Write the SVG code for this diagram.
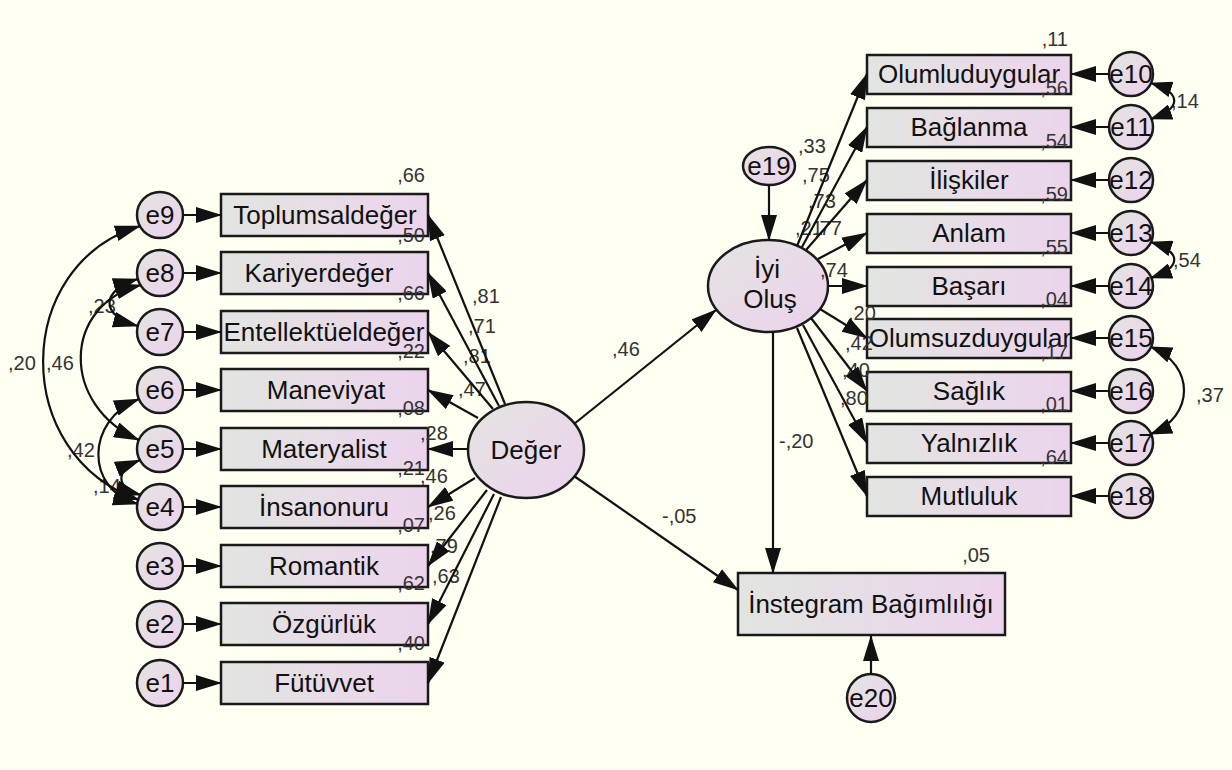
<svg xmlns="http://www.w3.org/2000/svg" width="1232" height="770" viewBox="0 0 1232 770">
<defs>
<linearGradient id="gb" x1="0" y1="0" x2="1" y2="0"><stop offset="0" stop-color="#e2e5e1"/><stop offset="1" stop-color="#ecd4ec"/></linearGradient>
<linearGradient id="gc" x1="0" y1="0" x2="1" y2="1"><stop offset="0" stop-color="#e4e4e2"/><stop offset="1" stop-color="#ecd2ec"/></linearGradient>
<marker id="a" viewBox="0 0 26 16" refX="25" refY="8" markerWidth="26" markerHeight="16" markerUnits="userSpaceOnUse" orient="auto-start-reverse"><path d="M0,0L26,8L0,16z" fill="#111"/></marker>
<marker id="s" viewBox="0 0 22 16" refX="21" refY="8" markerWidth="22" markerHeight="16" markerUnits="userSpaceOnUse" orient="auto-start-reverse"><path d="M0,0L22,8L0,16z" fill="#111"/></marker>
<style>
.bx{fill:url(#gb);stroke:#1a1a1a;stroke-width:2.5}
.ci{fill:url(#gc);stroke:#1a1a1a;stroke-width:2.5}
.t{font-family:"Liberation Sans",Arial,sans-serif;font-size:26px;fill:#111;text-anchor:middle}
.n{font-family:"Liberation Sans",Arial,sans-serif;font-size:20px;fill:#333}
.e{text-anchor:end}
.c{fill:none;stroke:#111;stroke-width:2.2;marker-end:url(#a)}
.cv{fill:none;stroke:#111;stroke-width:2.2;marker-start:url(#a);marker-end:url(#a)}
.cs{fill:none;stroke:#111;stroke-width:2.2;marker-start:url(#s);marker-end:url(#s)}
</style>
</defs>
<rect width="1232" height="770" fill="#fffff2"/>

<!-- left error circles -->
<g id="e9"><circle class="ci" cx="160" cy="215" r="23"/><text class="t" x="160" y="224">e9</text></g>
<g id="e8"><circle class="ci" cx="160" cy="273" r="23"/><text class="t" x="160" y="282">e8</text></g>
<g id="e7"><circle class="ci" cx="160" cy="332" r="23"/><text class="t" x="160" y="341">e7</text></g>
<g id="e6"><circle class="ci" cx="160" cy="390" r="23"/><text class="t" x="160" y="399">e6</text></g>
<g id="e5"><circle class="ci" cx="160" cy="449" r="23"/><text class="t" x="160" y="458">e5</text></g>
<g id="e4"><circle class="ci" cx="160" cy="507" r="23"/><text class="t" x="160" y="516">e4</text></g>
<g id="e3"><circle class="ci" cx="160" cy="566" r="23"/><text class="t" x="160" y="575">e3</text></g>
<g id="e2"><circle class="ci" cx="160" cy="624" r="23"/><text class="t" x="160" y="633">e2</text></g>
<g id="e1"><circle class="ci" cx="160" cy="683" r="23"/><text class="t" x="160" y="692">e1</text></g>

<!-- left boxes -->
<g id="toplumsaldeger"><rect class="bx" x="221" y="194" width="207" height="42"/><text class="t" x="325" y="224">Toplumsaldeğer</text></g>
<g id="kariyerdeger"><rect class="bx" x="221" y="252" width="207" height="42"/><text class="t" x="319" y="282">Kariyerdeğer</text></g>
<g id="entellektueldeger"><rect class="bx" x="221" y="311" width="207" height="42"/><text class="t" x="324" y="341">Entellektüeldeğer</text></g>
<g id="maneviyat"><rect class="bx" x="221" y="369" width="207" height="42"/><text class="t" x="326" y="399">Maneviyat</text></g>
<g id="materyalist"><rect class="bx" x="221" y="428" width="207" height="42"/><text class="t" x="324" y="458">Materyalist</text></g>
<g id="insanonuru"><rect class="bx" x="221" y="486" width="207" height="42"/><text class="t" x="324" y="516">İnsanonuru</text></g>
<g id="romantik"><rect class="bx" x="221" y="545" width="207" height="42"/><text class="t" x="324" y="575">Romantik</text></g>
<g id="ozgurluk"><rect class="bx" x="221" y="603" width="207" height="42"/><text class="t" x="324" y="633">Özgürlük</text></g>
<g id="futuvvet"><rect class="bx" x="221" y="662" width="207" height="42"/><text class="t" x="324" y="692">Fütüvvet</text></g>

<!-- latent nodes -->
<g id="deger"><ellipse class="ci" cx="526" cy="450" rx="58" ry="48"/><text class="t" x="526" y="459">Değer</text></g>
<g id="e19"><ellipse class="ci" cx="769" cy="166" rx="26" ry="19"/><text class="t" x="769" y="175">e19</text></g>
<g id="iyiolus"><ellipse class="ci" cx="768" cy="286" rx="60" ry="46"/><text class="t" x="767" y="278">İyi</text><text class="t" x="770" y="308">Oluş</text></g>

<!-- right boxes -->
<g id="olumluduygular"><rect class="bx" x="867" y="55" width="204" height="39"/><text class="t" x="969" y="83">Olumluduygular</text></g>
<g id="baglanma"><rect class="bx" x="867" y="108" width="204" height="39"/><text class="t" x="969" y="136">Bağlanma</text></g>
<g id="iliskiler"><rect class="bx" x="867" y="161" width="204" height="39"/><text class="t" x="969" y="189">İlişkiler</text></g>
<g id="anlam"><rect class="bx" x="867" y="214" width="204" height="39"/><text class="t" x="969" y="242">Anlam</text></g>
<g id="basari"><rect class="bx" x="867" y="267" width="204" height="39"/><text class="t" x="969" y="295">Başarı</text></g>
<g id="olumsuzduygular"><rect class="bx" x="867" y="319" width="204" height="39"/><text class="t" x="970" y="347">Olumsuzduygular</text></g>
<g id="saglik"><rect class="bx" x="867" y="372" width="204" height="39"/><text class="t" x="969" y="400">Sağlık</text></g>
<g id="yalnizlik"><rect class="bx" x="867" y="424" width="204" height="39"/><text class="t" x="969" y="452">Yalnızlık</text></g>
<g id="mutluluk"><rect class="bx" x="867" y="477" width="204" height="39"/><text class="t" x="969" y="505">Mutluluk</text></g>

<!-- right error circles -->
<g id="e10"><circle class="ci" cx="1131" cy="74" r="22"/><text class="t" x="1131" y="83">e10</text></g>
<g id="e11"><circle class="ci" cx="1131" cy="127" r="22"/><text class="t" x="1131" y="136">e11</text></g>
<g id="e12"><circle class="ci" cx="1131" cy="180" r="22"/><text class="t" x="1131" y="189">e12</text></g>
<g id="e13"><circle class="ci" cx="1131" cy="233" r="22"/><text class="t" x="1131" y="242">e13</text></g>
<g id="e14"><circle class="ci" cx="1131" cy="286" r="22"/><text class="t" x="1131" y="295">e14</text></g>
<g id="e15"><circle class="ci" cx="1131" cy="338" r="22"/><text class="t" x="1131" y="347">e15</text></g>
<g id="e16"><circle class="ci" cx="1131" cy="391" r="22"/><text class="t" x="1131" y="400">e16</text></g>
<g id="e17"><circle class="ci" cx="1131" cy="443" r="22"/><text class="t" x="1131" y="452">e17</text></g>
<g id="e18"><circle class="ci" cx="1131" cy="496" r="22"/><text class="t" x="1131" y="505">e18</text></g>

<!-- outcome -->
<g id="instegram"><rect class="bx" x="738" y="573" width="267" height="62"/><text class="t" x="871" y="613">İnstegram Bağımlılığı</text></g>
<g id="e20"><circle class="ci" cx="871" cy="698" r="24"/><text class="t" x="871" y="707">e20</text></g>

<!-- labels -->
<g id="labels">
<text class="n e" x="425" y="182">,66</text>
<text class="n e" x="425" y="242">,50</text>
<text class="n e" x="425" y="300">,66</text>
<text class="n e" x="425" y="358">,22</text>
<text class="n e" x="425" y="415">,08</text>
<text class="n e" x="425" y="475">,21</text>
<text class="n e" x="425" y="532">,07</text>
<text class="n e" x="425" y="590">,62</text>
<text class="n e" x="425" y="650">,40</text>
<text class="n" x="472" y="303">,81</text>
<text class="n" x="468" y="333">,71</text>
<text class="n" x="463" y="363">,81</text>
<text class="n" x="458" y="396">,47</text>
<text class="n" x="420" y="440">,28</text>
<text class="n" x="420" y="483">,46</text>
<text class="n" x="428" y="520">,26</text>
<text class="n" x="430" y="553">,79</text>
<text class="n" x="432" y="583">,63</text>
<text class="n" x="8" y="370">,20</text>
<text class="n" x="46" y="370">,46</text>
<text class="n" x="88" y="313">,23</text>
<text class="n" x="67" y="457">,42</text>
<text class="n" x="93" y="493">,14</text>
<text class="n" x="612" y="356">,46</text>
<text class="n" x="662" y="523">-,05</text>
<text class="n" x="779" y="448">-,20</text>
<text class="n e" x="990" y="562">,05</text>
<text class="n e" x="1068" y="46">,11</text>
<text class="n e" x="1068" y="95">,56</text>
<text class="n e" x="1068" y="148">,54</text>
<text class="n e" x="1068" y="201">,59</text>
<text class="n e" x="1068" y="254">,55</text>
<text class="n e" x="1068" y="306">,04</text>
<text class="n e" x="1068" y="359">,17</text>
<text class="n e" x="1068" y="411">,01</text>
<text class="n e" x="1068" y="464">,64</text>
<text class="n" x="798" y="153">,33</text>
<text class="n" x="802" y="182">,75</text>
<text class="n" x="808" y="208">,73</text>
<text class="n" x="795" y="235">,21</text>
<text class="n" x="814" y="235">,77</text>
<text class="n" x="820" y="277">,74</text>
<text class="n" x="848" y="320">,20</text>
<text class="n" x="845" y="350">,42</text>
<text class="n" x="842" y="377">,40</text>
<text class="n" x="840" y="405">,80</text>
<text class="n" x="1171" y="108">,14</text>
<text class="n" x="1173" y="267">,54</text>
<text class="n" x="1196" y="402">,37</text>
</g>

<!-- connectors -->
<g id="connectors">
<path class="c" d="M183,215H221"/>
<path class="c" d="M183,273H221"/>
<path class="c" d="M183,332H221"/>
<path class="c" d="M183,390H221"/>
<path class="c" d="M183,449H221"/>
<path class="c" d="M183,507H221"/>
<path class="c" d="M183,566H221"/>
<path class="c" d="M183,624H221"/>
<path class="c" d="M183,683H221"/>
<path class="c" d="M505,404L428,215"/>
<path class="c" d="M499,406L428,273"/>
<path class="c" d="M493,409L428,332"/>
<path class="c" d="M478,418L428,390"/>
<path class="c" d="M468,449L428,449"/>
<path class="c" d="M475,478L428,507"/>
<path class="c" d="M487,490L428,566"/>
<path class="c" d="M494,494L428,624"/>
<path class="c" d="M501,497L428,683"/>
<path class="cv" d="M140,226C12,265 10,455 139,500"/>
<path class="cv" d="M141,285C62,305 60,405 139,440"/>
<path class="cv" d="M138,279C100,290 100,316 138,326"/>
<path class="cv" d="M139,399C85,420 85,490 138,504"/>
<path class="cv" d="M140,460C115,470 115,488 141,495"/>
<path class="c" d="M574,424L716,310"/>
<path class="c" d="M574,476L738,590"/>
<path class="c" d="M773,332V573"/>
<path class="c" d="M769,185V240"/>
<path class="c" d="M871,674V636"/>
<path class="c" d="M797,246L867,74"/>
<path class="c" d="M802,247L867,127"/>
<path class="c" d="M806,250L867,180"/>
<path class="c" d="M818,259L867,233"/>
<path class="c" d="M829,286L867,286"/>
<path class="c" d="M820,309L867,338"/>
<path class="c" d="M811,318L867,391"/>
<path class="c" d="M803,325L867,443"/>
<path class="c" d="M797,328L867,496"/>
<path class="c" d="M1109,74H1071"/>
<path class="c" d="M1109,127H1071"/>
<path class="c" d="M1109,180H1071"/>
<path class="c" d="M1109,233H1071"/>
<path class="c" d="M1109,286H1071"/>
<path class="c" d="M1109,338H1071"/>
<path class="c" d="M1109,391H1071"/>
<path class="c" d="M1109,443H1071"/>
<path class="c" d="M1109,496H1071"/>
<path class="cs" d="M1151,83C1182,93 1182,108 1151,119"/>
<path class="cs" d="M1151,242C1182,252 1182,267 1151,278"/>
<path class="cs" d="M1151,347C1195,365 1195,416 1151,434"/>
</g>
</svg>
